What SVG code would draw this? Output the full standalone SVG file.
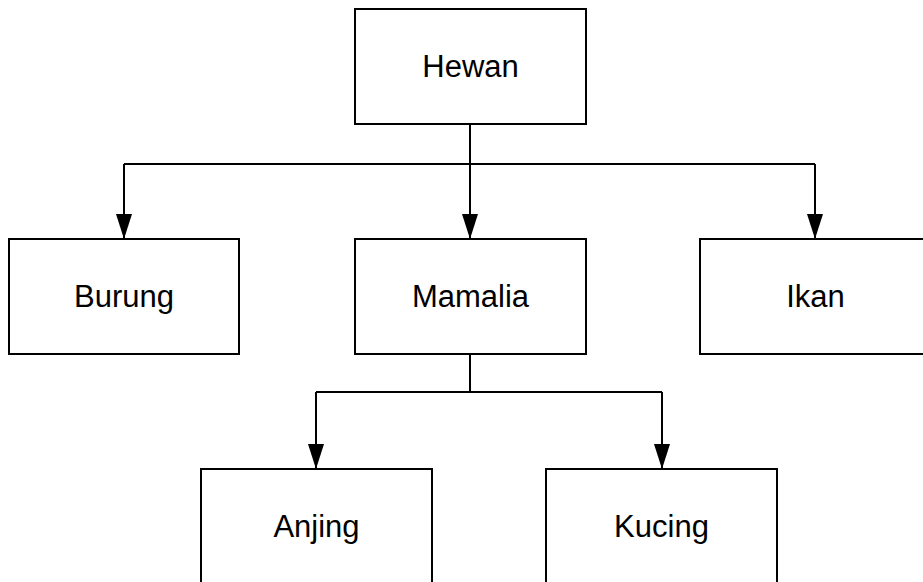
<svg xmlns="http://www.w3.org/2000/svg" width="923" height="582" viewBox="0 0 923 582">
  <style>
    .box { fill: #ffffff; stroke: #000000; stroke-width: 2; }
    .label { font-family: "Liberation Sans", Arial, sans-serif; font-size: 31px; fill: #000000; text-anchor: middle; }
    .wire { fill: none; stroke: #000000; stroke-width: 2; }
  </style>
  <defs>
    <marker id="arrow" markerUnits="userSpaceOnUse" markerWidth="25" markerHeight="16" refX="25" refY="8" viewBox="0 0 25 16" orient="auto">
      <path d="M0,0 L25,8 L0,16 Z" fill="#000000"/>
    </marker>
  </defs>
  <rect width="923" height="582" fill="#ffffff"/>

  <g id="connectors">
    <path class="wire" d="M470,124 V164" />
    <path class="wire" d="M124,164 H815" />
    <path class="wire" d="M124,164 V239" marker-end="url(#arrow)"/>
    <path class="wire" d="M470,164 V239" marker-end="url(#arrow)"/>
    <path class="wire" d="M815,164 V239" marker-end="url(#arrow)"/>
    <path class="wire" d="M470,354 V392" />
    <path class="wire" d="M316,392 H662" />
    <path class="wire" d="M316,392 V469" marker-end="url(#arrow)"/>
    <path class="wire" d="M662,392 V469" marker-end="url(#arrow)"/>
  </g>

  <g id="hewan">
    <rect class="box" x="355" y="9" width="231" height="115"/>
    <text class="label" x="470.5" y="77">Hewan</text>
  </g>
  <g id="burung">
    <rect class="box" x="9" y="239" width="230" height="115"/>
    <text class="label" x="124" y="307">Burung</text>
  </g>
  <g id="mamalia">
    <rect class="box" x="355" y="239" width="231" height="115"/>
    <text class="label" x="470.5" y="307">Mamalia</text>
  </g>
  <g id="ikan">
    <rect class="box" x="700" y="239" width="231" height="115"/>
    <text class="label" x="815.5" y="307">Ikan</text>
  </g>
  <g id="anjing">
    <rect class="box" x="201" y="469" width="231" height="115"/>
    <text class="label" x="316.5" y="537">Anjing</text>
  </g>
  <g id="kucing">
    <rect class="box" x="546" y="469" width="231" height="115"/>
    <text class="label" x="661.5" y="537">Kucing</text>
  </g>
</svg>
